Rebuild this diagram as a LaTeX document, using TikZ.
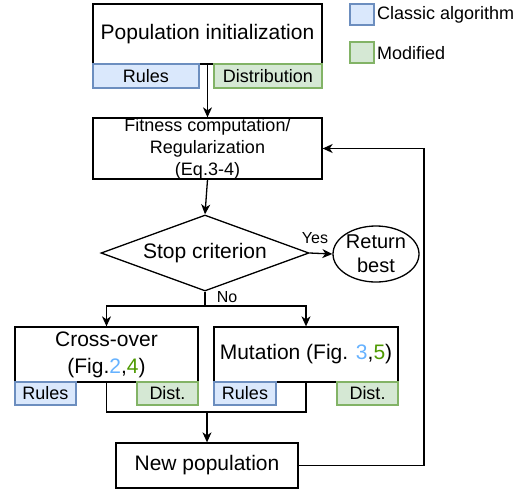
\documentclass[tikz,border=0pt]{standalone}
\usepackage{fontspec}
\setmainfont{Liberation Sans}
\usetikzlibrary{shapes.geometric,arrows.meta}
\definecolor{bfill}{HTML}{DAE8FC}
\definecolor{bdraw}{HTML}{6C8EBF}
\definecolor{gfill}{HTML}{D5E8D4}
\definecolor{gdraw}{HTML}{82B366}
\definecolor{numblue}{HTML}{66B2FF}
\definecolor{numgreen}{HTML}{4D9900}
\tikzset{
  big/.style={font=\fontsize{21}{27}\selectfont},
  small/.style={font=\fontsize{18}{22}\selectfont},
  procbox/.style={draw, line width=1.3pt, inner sep=0pt, align=center},
  bluetag/.style={draw=bdraw, fill=bfill, line width=1.3pt, inner sep=0pt, small},
  greentag/.style={draw=gdraw, fill=gfill, line width=1.3pt, inner sep=0pt, small},
  link/.style={line width=1.3pt},
  arr/.style={line width=1.3pt, -{Stealth[length=10pt,width=9pt,inset=3pt]}},
}
\begin{document}
\begin{tikzpicture}[x=1pt,y=-1pt]
\useasboundingbox (0,0) rectangle (527,491);
% legend
\node[bluetag, minimum width=24pt, minimum height=21pt] (legb) at (362,14.5) {};
\node[greentag, minimum width=24pt, minimum height=21pt] (legg) at (362,52.5) {};
\node[small, anchor=west, inner sep=0pt] (legbt) at (377,15) {Classic algorithm};
\node[small, anchor=west, inner sep=0pt] (leggt) at (377,53) {Modified};
% population initialization
\node[procbox, big, minimum width=229pt, minimum height=60pt] (pop) at (207.5,34) {Population initialization};
\node[bluetag, minimum width=106pt, minimum height=24pt] (poprules) at (146,76) {Rules};
\node[greentag, minimum width=108pt, minimum height=24pt] (popdist) at (268,76) {Distribution};
% fitness
\node[procbox, small, minimum width=229pt, minimum height=61pt] (fit) at (207.5,148.5) {};
\node[small, align=center, inner sep=0pt, font=\fontsize{18}{22}\selectfont] (fittext) at (207.5,149) {Fitness computation/\\Regularization\\(Eq.3-4)};
% stop criterion
\node[draw, diamond, line width=1.3pt, big, minimum width=208pt, minimum height=76pt, aspect=2.74, inner sep=0pt] (stop) at (205,253) {Stop criterion};
\node[draw, ellipse, line width=1.3pt, big, align=center, minimum width=86pt, minimum height=56pt, inner sep=0pt, font=\fontsize{20}{24}\selectfont] (ret) at (376,254) {Return\\best};
% cross-over and mutation
\node[procbox, big, minimum width=183pt, minimum height=55pt] (cross) at (106.5,354.5) {Cross-over\\(Fig.\textcolor{numblue}{2},\textcolor{numgreen}{4})};
\node[bluetag, minimum width=61pt, minimum height=23pt] (crules) at (45.5,393.5) {Rules};
\node[greentag, minimum width=61pt, minimum height=23pt] (cdist) at (167.5,393.5) {Dist.};
\node[procbox, big, minimum width=184pt, minimum height=55pt] (mut) at (306,354.5) {Mutation (Fig. \textcolor{numblue}{3},\textcolor{numgreen}{5})};
\node[bluetag, minimum width=62pt, minimum height=23pt] (mrules) at (245,393.5) {Rules};
\node[greentag, minimum width=61pt, minimum height=23pt] (mdist) at (367.5,393.5) {Dist.};
% new population
\node[procbox, big, minimum width=182pt, minimum height=45pt] (newpop) at (207,465.5) {New population};
% connectors
\draw[arr] (pop.south) -- (fit.north);
\draw[arr] (fit.south) -- (stop.north);
\draw[arr] (stop.east) -- (ret.west);
\node[font=\fontsize{16}{19}\selectfont, inner sep=0pt] (yes) at (315,238) {Yes};
\coordinate (split) at (205,306);
\draw[link] (stop.south) -- (split);
\draw[arr] (split) -| (cross.north);
\draw[arr] (split) -| (mut.north);
\node[font=\fontsize{16}{19}\selectfont, inner sep=0pt] (no) at (227,297) {No};
\coordinate (merge) at (207,412);
\draw[link] (cross.south) -- (cross.south |- merge) -- (mut.south |- merge) -- (mut.south);
\draw[arr] (merge) -- (newpop.north);
\coordinate (fb) at (424,148.5);
\draw[arr] (newpop.east) -| (fb) -- (fit.east);
\end{tikzpicture}
\end{document}
